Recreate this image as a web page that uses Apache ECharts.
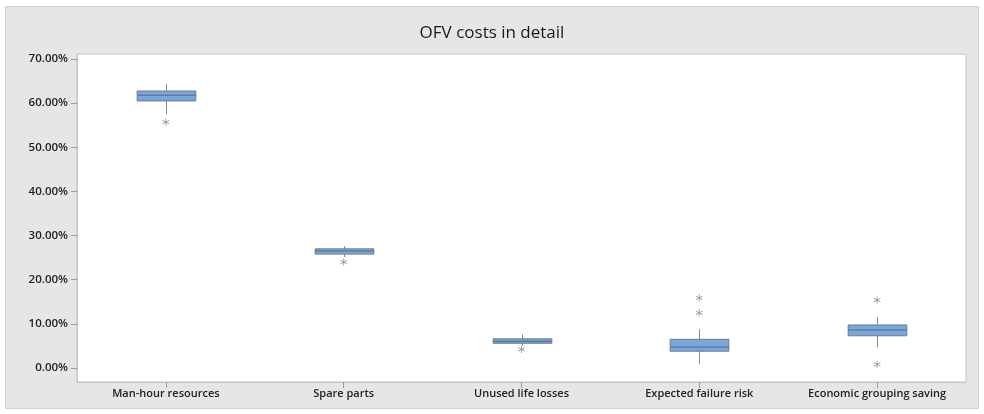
<!DOCTYPE html>
<html>
<head>
<meta charset="utf-8">
<script src="https://cdn.jsdelivr.net/npm/echarts@6/dist/echarts.min.js"></script>
<style>
  html, body { margin: 0; padding: 0; background: #ffffff; }
  #chart { width: 984px; height: 414px; }
</style>
</head>
<body>
<div id="chart"></div>
<script>
// Cost components (share of OFV, %)
const categories = ['Man-hour resources', 'Spare parts', 'Unused life losses', 'Expected failure risk', 'Economic grouping saving'];
const whiskerLow  = [57.5, 25.1, 5.05, 0.9, 4.7];
const q1          = [60.5, 25.8, 5.6, 3.8, 7.3];
const median      = [61.8, 26.5, 6.05, 4.75, 8.6];
const q3          = [62.75, 27.0, 6.6, 6.5, 9.75];
const whiskerHigh = [64.3, 27.6, 7.6, 8.8, 11.5];
// Outliers: [category index, value]
const outliers = [[0, 55.7], [1, 24.0], [2, 4.2], [3, 15.9], [3, 12.5], [4, 15.4], [4, 0.8]];
const yTicks = [0, 10, 20, 30, 40, 50, 60, 70];

const boxData = categories.map((c, i) => [i, whiskerLow[i], q1[i], median[i], q3[i], whiskerHigh[i]]);

// Asterisk marker made of three thin bars
const asterisk = 'path://M4.4 0 L5.6 0 L5.6 10 L4.4 10 Z ' +
  'M1.0 1.98 L9.6 6.98 L9.0 8.02 L0.4 3.02 Z ' +
  'M0.4 6.98 L9.0 1.98 L9.6 3.02 L1.0 8.02 Z';

const chart = echarts.init(document.getElementById('chart'), null, { renderer: 'canvas' });

const fontFamily = '"Open Sans", "Noto Sans", sans-serif';

chart.setOption({
  animation: false,
  backgroundColor: '#ffffff',
  title: {
    text: 'OFV costs in detail',
    left: 'center',
    top: 20,
    textStyle: { fontFamily, fontSize: 17, fontWeight: 'normal', color: '#1a1a1a' }
  },
  graphic: [
    { type: 'rect', z: -10, shape: { x: 5.5, y: 6.5, width: 973, height: 402 },
      style: { fill: '#e6e6e6', stroke: '#d2d2d2', lineWidth: 1 } }
  ],
  grid: {
    left: 77, right: 18, top: 54, bottom: 32, containLabel: false,
    show: true, backgroundColor: '#ffffff', borderColor: '#c4c4c4', borderWidth: 1
  },
  xAxis: {
    type: 'category',
    data: categories,
    boundaryGap: true,
    axisLine: { show: true, onZero: false, lineStyle: { color: '#c4c4c4' } },
    axisTick: { show: true, alignWithLabel: true, interval: 0, length: 6, lineStyle: { color: '#9a9a9a' } },
    axisLabel: { fontFamily, fontSize: 11, fontWeight: 600, color: '#222222', margin: 6, interval: 0 },
    splitLine: { show: false }
  },
  yAxis: {
    type: 'value',
    min: -3.17,
    max: 71.13,
    axisLine: { show: true, lineStyle: { color: '#c4c4c4' } },
    axisTick: { show: true, length: 6, customValues: yTicks, lineStyle: { color: '#9a9a9a' } },
    axisLabel: {
      fontFamily, fontSize: 11.5, fontWeight: 600, color: '#222222', margin: 9,
      customValues: yTicks,
      formatter: v => v.toFixed(2) + '%'
    },
    splitLine: { show: false }
  },
  series: [
    {
      type: 'custom',
      data: boxData,
      renderItem: function (params, api) {
        const x = api.value(0);
        const lo = api.coord([x, api.value(1)]);
        const b1 = api.coord([x, api.value(2)]);
        const md = api.coord([x, api.value(3)]);
        const b3 = api.coord([x, api.value(4)]);
        const hi = api.coord([x, api.value(5)]);
        const w = api.size([1, 0])[0] * 0.33;
        const cx = Math.round(lo[0]) + 0.5;
        const left = cx - w / 2;
        return {
          type: 'group',
          children: [
            { type: 'line', shape: { x1: cx, y1: hi[1], x2: cx, y2: b3[1] },
              style: { stroke: '#8a8a8a', lineWidth: 1 } },
            { type: 'line', shape: { x1: cx, y1: b1[1], x2: cx, y2: lo[1] },
              style: { stroke: '#8a8a8a', lineWidth: 1 } },
            { type: 'rect', shape: { x: left, y: b3[1], width: w, height: b1[1] - b3[1] },
              style: { fill: '#7ba6da', stroke: '#6f7c8c', lineWidth: 1 } },
            { type: 'line', shape: { x1: left, y1: md[1], x2: left + w, y2: md[1] },
              style: { stroke: '#4d6b8f', lineWidth: 1 } }
          ]
        };
      },
      encode: { x: 0, y: [1, 2, 3, 4, 5] },
      z: 3
    },
    {
      type: 'scatter',
      data: outliers,
      symbol: asterisk,
      symbolSize: 7,
      itemStyle: { color: '#858585' },
      z: 4
    }
  ]
});
</script>
</body>
</html>
